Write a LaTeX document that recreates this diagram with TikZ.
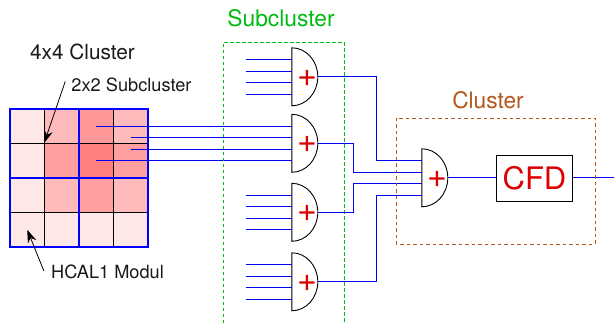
\documentclass[tikz,border=0pt]{standalone}
\usepackage{fontspec}
\setmainfont{TeX Gyre Heros}
\usetikzlibrary{arrows.meta, positioning, calc}
\definecolor{wireblue}{HTML}{0000EE}
\definecolor{subgreen}{HTML}{00BB11}
\definecolor{clusterbrown}{HTML}{B5561A}
\definecolor{plusred}{HTML}{DD0000}
\tikzset{
  wire/.style={wireblue, line width=1pt},
  gridline/.style={blue, line width=2pt},
  gateshape/.style={draw=none, minimum width=26pt, minimum height=58pt, inner sep=0pt},
  cell/.style={draw=black, line width=0.8pt, minimum size=34.5pt, inner sep=0pt},
  label/.style={anchor=base, inner sep=0pt, font=\fontsize{18.2}{20}\selectfont, text=black!90},
  plusmark/.style={inner sep=0pt, text=plusred, font=\fontsize{34}{34}\selectfont},
  pointer/.style={-{Stealth[length=13pt,width=9pt]}, line width=0.8pt},
}

\begin{document}
\begin{tikzpicture}[x=1pt, y=1pt]
  \useasboundingbox (0,0) rectangle (614,324);
  % Modules
  \foreach \r/\rowcolors in {1/{FFE8E8,FFBBBB,FF9999,FFBBBB},
                             2/{FFE8E8,FF9F9F,FF7F7F,FF9F9F},
                             3/{FFE8E8,FFBBBB,FF9F9F,FFBBBB},
                             4/{FFE8E8,FFE8E8,FFE8E8,FFE8E8}} {
    \foreach \cellcolor [count=\c] in \rowcolors {
      \definecolor{cellfill}{HTML}{\cellcolor}
      \node[cell, fill=cellfill] (c-\r-\c) at ({27.25+34.5*(\c-1)}, {197.75-34.5*(\r-1)}) {};
    }
  }
  \draw[gridline] (c-1-1.north west) rectangle (c-4-4.south east);
  \draw[gridline] (c-1-3.north west) -- (c-4-3.south west);
  \draw[gridline] (c-3-1.north west) -- (c-3-4.north east);
  \node[label, font=\fontsize{20.8}{22}\selectfont] (lblfour) at (82.5,264) {4x4 Cluster};
  \node[label] (lbltwo) at (131.5,232) {2x2 Subcluster};
  \node[label] (lblmodul) at (107.5,45.3) {HCAL1 Modul};
  \draw[pointer] ($(lbltwo.west)+(-6,4)$) -- (c-2-2.north west);
  \draw[pointer] ($(lblmodul.west)+(-7,1)$) -- (c-4-1.center);
  % Subcluster gates
  \foreach \name/\ypos in {gA/247, gB/180.5, gC/111.5, gD/42} {
    \node[gateshape] (\name) at (305,\ypos) {};
    \draw[black, line width=0.9pt, fill=white] (\name.north west) arc[start angle=90, end angle=-90, x radius=26pt, y radius=29pt] -- cycle;
    \node[plusmark] (\name plus) at ($(\name)+(2,-1)$) {+};
    \foreach \i/\off in {1/17.25, 2/5.75, 3/-5.75, 4/-17.25}
      \coordinate (\name-\i) at ($(\name.west)+(0,\off)$);
  }
  \foreach \name in {gA, gC, gD}
    \foreach \i in {1,2,3,4}
      \draw[wire] ($(\name-\i)+(-46,0)$) -- (\name-\i);
  \draw[wire] (c-1-3.center |- gB-1) -- (gB-1);
  \draw[wire] (c-1-4.center |- gB-2) -- (gB-2);
  \draw[wire] (c-1-4.center |- gB-3) -- (gB-3);
  \draw[wire] (c-2-3.center |- gB-4) -- (gB-4);
  \node[anchor=base, inner sep=0pt, text=subgreen, font=\fontsize{22.8}{24}\selectfont] (lblsub) at (281,297.5) {Subcluster};
  \coordinate (subtop) at (223,281.5);
  \coordinate (subbot) at (344,-4);
  \draw[subgreen, line width=0.9pt, dash pattern=on 3.5pt off 2.5pt] (subbot) -- (subbot |- subtop) -- (subtop) -- (subtop |- subbot);
  % Cluster gate
  \node[gateshape] (gM) at (435,146) {};
  \draw[black, line width=0.9pt, fill=white] (gM.north west) arc[start angle=90, end angle=-90, x radius=26pt, y radius=29pt] -- cycle;
  \node[plusmark] (gMplus) at ($(gM)+(2,-1)$) {+};
  \foreach \i/\off in {1/17.25, 2/5.75, 3/-5.75, 4/-17.25}
    \coordinate (gM-\i) at ($(gM.west)+(0,\off)$);
  \coordinate (bendL) at (353,0);
  \coordinate (bendR) at (376,0);
  \draw[wire] (gA.east) -| (bendR |- gM-1) -- (gM-1);
  \draw[wire] (gB.east) -| (bendL |- gM-2) -- (gM-2);
  \draw[wire] (gC.east) -| (bendL |- gM-3) -- (gM-3);
  \draw[wire] (gD.east) -| (bendR |- gM-4) -- (gM-4);
  % CFD
  \node[draw=black, line width=0.9pt, minimum width=75.5pt, minimum height=46pt, inner sep=0pt, text=plusred, font=\fontsize{31}{31}\selectfont] (cfd) at (534.5,146) {CFD};
  \coordinate (out) at (614,146);
  \draw[wire] (gM.east) -- (cfd.west);
  \draw[wire] (cfd.east) -- (out);
  \node[anchor=base, inner sep=0pt, text=clusterbrown, font=\fontsize{22.7}{24}\selectfont] (lblcluster) at (488,215) {Cluster};
  \draw[clusterbrown, line width=0.9pt, dash pattern=on 3.5pt off 3pt] (396,206) rectangle (595,80);
\end{tikzpicture}
\end{document}
